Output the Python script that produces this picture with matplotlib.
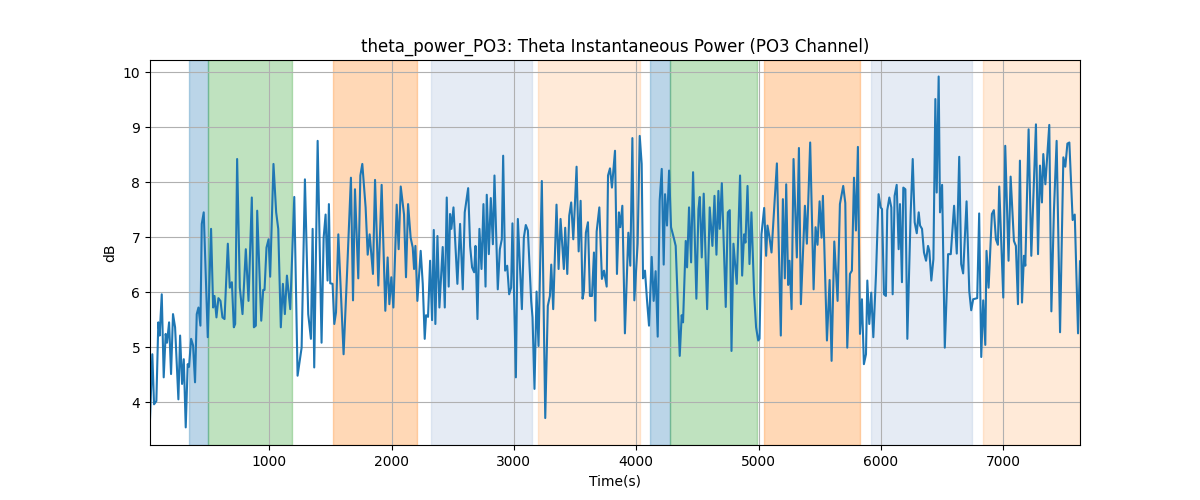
import matplotlib
matplotlib.use("Agg")
import matplotlib.pyplot as plt

# time (s) and theta power (dB)
time_s = [
    26, 45, 59, 78, 94, 105, 122, 138, 154, 165, 182, 198, 214, 231, 258, 272, 288, 302, 318, 334,
    345, 362, 378, 394, 408, 422, 438, 449, 465, 498, 525, 542, 553, 569, 585, 602, 618, 635, 662, 678,
    695, 711, 722, 738, 760, 782, 809, 831, 858, 875, 891, 902, 935, 951, 962, 978, 995,
    1008, 1035, 1057, 1074, 1095, 1112, 1128, 1145, 1172, 1205, 1232, 1265, 1292, 1319, 1341, 1355, 1368, 1396, 1428,
    1445, 1461, 1477, 1488, 1499, 1518, 1532, 1546, 1565, 1608, 1636, 1668, 1685, 1701, 1728, 1745, 1761, 1788, 1805,
    1821, 1848, 1865, 1892, 1919, 1949, 1968, 1982, 1998, 2015, 2042, 2058, 2075, 2102, 2118, 2135, 2156, 2173, 2184,
    2195, 2211, 2238, 2255, 2271, 2282, 2298, 2315, 2331, 2345, 2358, 2375, 2391, 2418, 2435, 2451, 2467, 2478, 2489,
    2506, 2538, 2560, 2582, 2598, 2626, 2642, 2658, 2675, 2686, 2702, 2718, 2735, 2751, 2768, 2778, 2795, 2811, 2828,
    2841, 2868, 2885, 2901, 2912, 2928, 2945, 2961, 2977, 2988, 3016, 3032, 3065, 3081, 3097, 3114, 3141, 3152, 3168,
    3185, 3201, 3228, 3256, 3277, 3294, 3305, 3321, 3348, 3365, 3381, 3408, 3419, 3436, 3452, 3468, 3485, 3496, 3512,
    3529, 3545, 3561, 3572, 3588, 3605, 3621, 3638, 3654, 3665, 3676, 3698, 3719, 3736, 3758, 3769, 3785, 3801, 3826,
    3842, 3858, 3869, 3886, 3907, 3935, 3951, 3968, 3984, 4011, 4028, 4044, 4055, 4071, 4088, 4104, 4126, 4142, 4158,
    4175, 4191, 4208, 4224, 4235, 4251, 4268, 4284, 4306, 4322, 4355, 4371, 4382, 4404, 4415, 4431, 4448, 4464, 4491,
    4508, 4519, 4535, 4551, 4579, 4600, 4622, 4639, 4655, 4671, 4682, 4699, 4731, 4748, 4764, 4778, 4794, 4821, 4848,
    4865, 4881, 4892, 4909, 4925, 4941, 4963, 4979, 4996, 5007, 5023, 5045, 5061, 5072, 5089, 5105, 5132, 5149, 5181,
    5198, 5214, 5225, 5241, 5252, 5269, 5285, 5312, 5329, 5345, 5378, 5394, 5421, 5449, 5465, 5481, 5498, 5514, 5525,
    5558, 5580, 5596, 5618, 5645, 5664, 5691, 5708, 5724, 5746, 5762, 5779, 5795, 5811, 5828, 5844, 5860, 5877, 5888,
    5904, 5920, 5937, 5959, 5980, 5997, 6008, 6024, 6040, 6051, 6068, 6084, 6095, 6111, 6128, 6144, 6155, 6171, 6182,
    6199, 6215, 6242, 6259, 6275, 6292, 6308, 6319, 6335, 6351, 6368, 6384, 6395, 6411, 6428, 6444, 6455, 6471, 6482,
    6499, 6521, 6548, 6570, 6597, 6619, 6639, 6655, 6671, 6699, 6721, 6737, 6753, 6786, 6802, 6819, 6835, 6852, 6862,
    6879, 6906, 6922, 6939, 6955, 6966, 6999, 7015, 7042, 7059, 7086, 7102, 7119, 7135, 7152, 7168, 7179, 7206, 7228,
    7250, 7266, 7283, 7299, 7315, 7326, 7343, 7375, 7392, 7413, 7435, 7463, 7490, 7506, 7523, 7539, 7566, 7583, 7610,
    7626,
]
power_db = [
    3.69, 4.87, 3.96, 4.02, 5.45, 5.21, 5.96, 4.45, 5.24, 5.08, 5.45, 4.51, 5.60, 5.36, 4.05, 5.21, 4.33, 4.78, 3.54, 4.69,
    4.64, 5.15, 5.03, 4.36, 5.60, 5.72, 5.39, 7.24, 7.45, 5.18, 7.15, 5.72, 5.93, 5.54, 5.89, 5.84, 5.54, 5.51, 6.88, 6.08,
    6.18, 5.36, 5.42, 8.42, 6.08, 5.60, 6.78, 5.84, 7.72, 5.36, 5.39, 7.48, 5.48, 6.04, 6.04, 6.81, 6.96,
    6.28, 8.33, 7.45, 7.15, 5.36, 6.15, 5.60, 6.30, 5.69, 7.73, 4.48, 4.99, 8.05, 5.60, 5.15, 7.15, 4.63, 8.75, 5.08,
    6.99, 7.41, 6.21, 7.60, 6.16, 6.15, 5.42, 5.63, 7.05, 4.87, 6.33, 8.08, 5.85, 7.87, 6.25, 8.12, 8.33, 7.54, 6.68,
    7.05, 6.33, 8.04, 6.12, 7.95, 5.66, 6.63, 5.78, 6.27, 5.72, 7.59, 6.78, 7.92, 7.41, 6.27, 7.60, 6.99, 6.81, 6.42,
    6.84, 5.84, 6.75, 6.15, 5.15, 5.58, 5.55, 6.57, 5.49, 7.13, 5.42, 7.02, 5.72, 6.82, 5.72, 7.72, 6.10, 7.42, 7.15,
    7.54, 6.15, 7.24, 6.05, 7.45, 7.89, 6.84, 6.45, 6.36, 6.84, 5.51, 7.15, 6.42, 7.60, 6.10, 7.77, 6.69, 7.71, 6.87,
    8.12, 6.05, 6.78, 6.96, 8.48, 6.39, 6.48, 5.96, 6.08, 7.25, 4.45, 7.33, 5.69, 6.99, 7.22, 7.12, 5.84, 5.54, 4.24,
    6.01, 5.02, 8.02, 3.71, 5.75, 5.93, 6.50, 5.69, 7.59, 6.42, 7.33, 6.42, 7.17, 6.33, 7.39, 7.63, 6.96, 7.48, 8.28,
    6.74, 7.66, 5.88, 6.02, 7.08, 7.27, 5.93, 5.93, 6.72, 5.48, 7.10, 7.54, 6.24, 6.39, 6.10, 8.12, 8.25, 7.90, 8.57,
    6.33, 7.45, 7.18, 7.57, 5.25, 7.08, 6.48, 8.80, 5.85, 6.88, 8.84, 8.33, 6.25, 6.39, 5.84, 5.39, 6.64, 5.84, 6.38,
    5.19, 7.66, 8.24, 6.50, 7.78, 7.21, 8.21, 7.18, 6.99, 6.84, 4.84, 5.58, 5.45, 6.93, 6.45, 7.54, 6.54, 8.18, 5.88,
    7.51, 7.73, 6.63, 7.79, 5.69, 7.54, 6.84, 7.75, 6.68, 7.84, 7.15, 7.98, 5.73, 7.45, 7.49, 4.93, 6.88, 6.15, 8.12,
    6.30, 7.05, 6.90, 7.93, 6.51, 7.45, 5.96, 5.36, 5.12, 5.15, 7.05, 7.53, 6.66, 7.21, 6.99, 6.72, 7.72, 8.34, 5.21,
    7.69, 6.25, 7.96, 6.13, 6.57, 5.69, 8.42, 6.63, 8.62, 5.78, 7.57, 6.88, 8.72, 6.05, 7.18, 6.86, 7.65, 6.99, 7.75,
    5.12, 6.22, 4.75, 6.92, 5.84, 7.60, 7.93, 7.62, 4.99, 6.33, 6.39, 8.08, 7.12, 8.64, 5.24, 5.87, 4.69, 4.87, 6.21,
    5.42, 5.99, 5.18, 6.33, 7.78, 7.54, 7.51, 5.96, 5.93, 7.49, 7.72, 7.54, 5.96, 7.75, 7.95, 6.78, 7.60, 6.18, 7.90,
    7.87, 5.15, 7.42, 8.42, 7.27, 7.07, 7.45, 7.21, 7.15, 6.72, 6.57, 6.84, 6.75, 6.21, 6.60, 9.51, 7.81, 9.92, 7.45,
    7.95, 4.99, 6.69, 6.69, 7.57, 6.70, 8.46, 6.51, 6.34, 7.65, 6.02, 5.67, 5.87, 5.89, 7.43, 4.82, 5.85, 5.04, 6.75,
    6.08, 7.42, 7.49, 6.96, 6.86, 7.92, 5.90, 8.66, 6.57, 8.10, 6.93, 6.84, 5.78, 8.39, 5.81, 6.66, 6.48, 8.96, 6.66,
    8.02, 9.05, 6.69, 8.30, 7.63, 8.51, 7.96, 9.04, 5.65, 7.48, 8.75, 5.27, 8.45, 8.28, 8.70, 8.72, 7.31, 7.41, 5.25,
    6.56,
]

# shaded segments: start, end, colour, alpha
seg_start = [346, 500, 1524, 2325, 3193, 4110, 4273, 5042, 5918, 6834]
seg_end = [500, 1188, 2211, 3144, 4028, 4273, 4985, 5828, 6744, 7628]
seg_color = ["tab:blue", "tab:green", "tab:orange", "lightsteelblue", "tab:orange",
             "tab:blue", "tab:green", "tab:orange", "lightsteelblue", "tab:orange"]
seg_alpha = [0.3, 0.3, 0.3, 0.33, 0.16, 0.3, 0.3, 0.3, 0.33, 0.16]

fig, ax = plt.subplots(figsize=(12, 5), dpi=100)

for s, e, c, a in zip(seg_start, seg_end, seg_color, seg_alpha):
    ax.axvspan(s, e, color=c, alpha=a)

ax.plot(time_s, power_db, color="tab:blue", linewidth=1.5)

ax.set_xlim(time_s[0], time_s[-1])
ax.set_ylim(3.22, 10.22)
ax.grid(True)
ax.set_title("theta_power_PO3: Theta Instantaneous Power (PO3 Channel)")
ax.set_xlabel("Time(s)")
ax.set_ylabel("dB")

fig.savefig("out.png")
